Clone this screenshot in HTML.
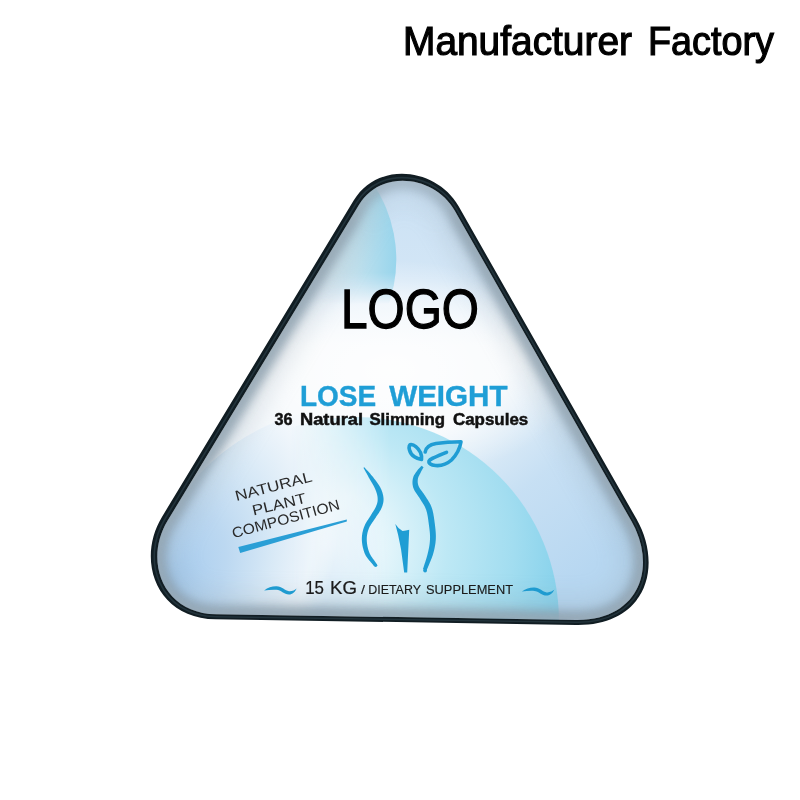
<!DOCTYPE html>
<html><head><meta charset="utf-8"><style>
html,body{margin:0;padding:0;background:#fff;width:800px;height:800px;overflow:hidden}
svg{display:block;will-change:transform}
text{font-family:"Liberation Sans",sans-serif}
</style></head><body>
<svg width="800" height="800" viewBox="0 0 800 800">
<defs>
  <clipPath id="tri"><path d="M358.85 205.12 C381.15 168.32 434.92 175.82 454.65 210.50 L631.64 521.56 C657.36 566.76 639.60 620.86 575.96 619.88 L216.37 614.30 C161.99 613.46 143.78 560.01 167.54 520.80 Z"/></clipPath>
  <linearGradient id="topblue" x1="0" y1="185" x2="0" y2="345" gradientUnits="userSpaceOnUse">
    <stop offset="0" stop-color="#cbe1f4"/>
    <stop offset="0.6" stop-color="#d3e6f6"/>
    <stop offset="1" stop-color="#d3e6f6" stop-opacity="0"/>
  </linearGradient>
  <linearGradient id="brblue" x1="470" y1="400" x2="600" y2="560" gradientUnits="userSpaceOnUse">
    <stop offset="0" stop-color="#b9d9f2" stop-opacity="0"/>
    <stop offset="0.5" stop-color="#c2ddf3" stop-opacity="0.9"/>
    <stop offset="1" stop-color="#b7d7f1"/>
  </linearGradient>
  <radialGradient id="glow" cx="0" cy="0" r="1" gradientUnits="userSpaceOnUse" gradientTransform="translate(390 370) scale(190 110)">
    <stop offset="0" stop-color="#ffffff" stop-opacity="0.9"/>
    <stop offset="0.6" stop-color="#ffffff" stop-opacity="0.6"/>
    <stop offset="1" stop-color="#ffffff" stop-opacity="0"/>
  </radialGradient>
  <linearGradient id="topband" x1="310" y1="0" x2="396" y2="0" gradientUnits="userSpaceOnUse">
    <stop offset="0" stop-color="#e2ebf0"/>
    <stop offset="0.55" stop-color="#c0e1ee"/>
    <stop offset="1" stop-color="#98d5ec"/>
  </linearGradient>
  <linearGradient id="topbandfade" x1="0" y1="180" x2="0" y2="304" gradientUnits="userSpaceOnUse">
    <stop offset="0" stop-color="#fff"/>
    <stop offset="0.75" stop-color="#fff"/>
    <stop offset="1" stop-color="#000"/>
  </linearGradient>
  <mask id="tbm"><rect x="0" y="0" width="800" height="800" fill="url(#topbandfade)"/></mask>
  <radialGradient id="lblue" cx="0" cy="0" r="1" gradientUnits="userSpaceOnUse" gradientTransform="matrix(119.1 -196.7 128.3 77.7 165 585)">
    <stop offset="0" stop-color="#a3caee"/>
    <stop offset="0.35" stop-color="#bcd8f1"/>
    <stop offset="0.6" stop-color="#d6e8f6"/>
    <stop offset="0.85" stop-color="#eef5fb" stop-opacity="0.9"/>
    <stop offset="1" stop-color="#f6fafd" stop-opacity="0"/>
  </radialGradient>
  <radialGradient id="cyan" cx="0" cy="0" r="1" gradientUnits="userSpaceOnUse" gradientTransform="translate(330 545) scale(235 235)">
    <stop offset="0" stop-color="#f5fbfe"/>
    <stop offset="0.22" stop-color="#e6f6fb"/>
    <stop offset="0.5" stop-color="#bde8f5"/>
    <stop offset="0.78" stop-color="#a2ddf0"/>
    <stop offset="1" stop-color="#86d1eb"/>
  </radialGradient>
  <linearGradient id="cyanfade" x1="290" y1="0" x2="390" y2="0" gradientUnits="userSpaceOnUse">
    <stop offset="0" stop-color="#000"/>
    <stop offset="1" stop-color="#fff"/>
  </linearGradient>
  <mask id="cfm"><rect x="0" y="0" width="800" height="800" fill="url(#cyanfade)"/></mask>
  <filter id="blur6" x="-20%" y="-20%" width="140%" height="140%"><feGaussianBlur stdDeviation="5"/></filter>
  <radialGradient id="apexg" cx="0" cy="0" r="1" gradientUnits="userSpaceOnUse" gradientTransform="translate(404 200) scale(60 45)">
    <stop offset="0" stop-color="#888"/>
    <stop offset="1" stop-color="#fff"/>
  </radialGradient>
  <mask id="apexm"><rect x="0" y="0" width="800" height="800" fill="url(#apexg)"/></mask>
  <filter id="blur12" x="-20%" y="-20%" width="140%" height="140%"><feGaussianBlur stdDeviation="12"/></filter>
  <filter id="blur3" x="-20%" y="-20%" width="140%" height="140%"><feGaussianBlur stdDeviation="3"/></filter>
</defs>
<g clip-path="url(#tri)">
  <rect x="100" y="100" width="600" height="560" fill="#f1f6fa"/>
  <rect x="100" y="100" width="600" height="300" fill="url(#topblue)"/>
  <rect x="100" y="100" width="600" height="560" fill="url(#brblue)"/>
  <ellipse cx="390" cy="370" rx="190" ry="110" fill="url(#glow)"/>
  <g mask="url(#tbm)"><circle cx="261.3" cy="259.5" r="135" fill="url(#topband)"/></g>
  <circle cx="355.9" cy="620.1" r="214" fill="url(#lblue)"/>
  <g mask="url(#cfm)"><circle cx="355.9" cy="620.1" r="203" fill="url(#cyan)"/></g>
  <g mask="url(#apexm)">
  <path d="M358.85 205.12 C381.15 168.32 434.92 175.82 454.65 210.50 L631.64 521.56 C657.36 566.76 639.60 620.86 575.96 619.88 L216.37 614.30 C161.99 613.46 143.78 560.01 167.54 520.80 Z" fill="none" stroke="#8d9fac" stroke-width="40" filter="url(#blur12)" opacity="0.25"/>
  <path d="M358.85 205.12 C381.15 168.32 434.92 175.82 454.65 210.50 L631.64 521.56 C657.36 566.76 639.60 620.86 575.96 619.88 L216.37 614.30 C161.99 613.46 143.78 560.01 167.54 520.80 Z" fill="none" stroke="#8a9dab" stroke-width="18" filter="url(#blur6)" opacity="0.8"/>
  <path d="M358.85 205.12 C381.15 168.32 434.92 175.82 454.65 210.50 L631.64 521.56 C657.36 566.76 639.60 620.86 575.96 619.88 L216.37 614.30 C161.99 613.46 143.78 560.01 167.54 520.80 Z" fill="none" stroke="#a2b2bd" stroke-width="6" filter="url(#blur3)" opacity="0.5"/>
  </g>
</g>
<path d="M353.64 200.59 C378.10 160.23 436.93 168.23 458.47 206.10 L636.40 518.81 C664.15 567.58 644.90 625.95 576.13 624.88 L215.70 619.29 C156.00 618.37 135.94 559.84 161.96 516.91 Z M358.85 205.12 C381.15 168.32 434.92 175.82 454.65 210.50 L631.64 521.56 C657.36 566.76 639.60 620.86 575.96 619.88 L216.37 614.30 C161.99 613.46 143.78 560.01 167.54 520.80 Z" fill="#111d23" fill-rule="evenodd"/>
<path d="M356.29 203.16 C379.63 164.65 435.84 172.39 456.44 208.60 L633.82 520.34 C660.49 567.21 642.04 623.30 576.00 622.28 L216.07 616.70 C159.16 615.82 140.07 559.96 164.91 518.98 Z" fill="none" stroke="#22333b" stroke-width="1.6"/>

<!-- texts -->
<g fill="#000" stroke="#000" stroke-width="1.2" font-size="41"><text x="403" y="55.2" textLength="229" lengthAdjust="spacingAndGlyphs">Manufacturer</text>
<text x="648" y="55.2" textLength="126" lengthAdjust="spacingAndGlyphs">Factory</text></g>
<text x="341" y="328" font-size="55.5" textLength="138" lengthAdjust="spacingAndGlyphs" fill="#000" stroke="#000" stroke-width="1.3">LOGO</text>
<g font-size="30.2" font-weight="bold" fill="#1f9ed6" stroke="#1f9ed6" stroke-width="0.4"><text x="300.0" y="406.4" textLength="76.2" lengthAdjust="spacingAndGlyphs">LOSE</text><text x="389.2" y="406.4" textLength="118.4" lengthAdjust="spacingAndGlyphs">WEIGHT</text></g>
<g font-size="17.2" font-weight="bold" fill="#111" stroke="#111" stroke-width="0.5"><text x="274.5" y="424.9" textLength="18.1" lengthAdjust="spacingAndGlyphs">36</text><text x="300.0" y="424.9" textLength="63.0" lengthAdjust="spacingAndGlyphs">Natural</text><text x="369.4" y="424.9" textLength="75.6" lengthAdjust="spacingAndGlyphs">Slimming</text><text x="453.0" y="424.9" textLength="75.2" lengthAdjust="spacingAndGlyphs">Capsules</text></g>
<g font-size="17.64" fill="#1a1a1a" stroke="#1a1a1a" stroke-width="0.2"><text x="305.2" y="594.2" textLength="18.8" lengthAdjust="spacingAndGlyphs">15</text><text x="330.0" y="594.2" textLength="27.0" lengthAdjust="spacingAndGlyphs">KG</text></g>
<g font-size="12.92" fill="#1a1a1a" stroke="#1a1a1a" stroke-width="0.15"><text x="361.0" y="594.2" textLength="4.0" lengthAdjust="spacingAndGlyphs">/</text><text x="368.2" y="594.2" textLength="52.8" lengthAdjust="spacingAndGlyphs">DIETARY</text><text x="426.0" y="594.2" textLength="87.0" lengthAdjust="spacingAndGlyphs">SUPPLEMENT</text></g>
<g fill="#2a2a2a" font-size="14.6">
  <text transform="translate(236.5 501) rotate(-14.5)" textLength="79" lengthAdjust="spacingAndGlyphs">NATURAL</text>
  <text transform="translate(253.5 515.5) rotate(-13.5)" textLength="55" lengthAdjust="spacingAndGlyphs">PLANT</text>
  <text transform="translate(233.5 538.3) rotate(-15.3)" textLength="111" lengthAdjust="spacingAndGlyphs">COMPOSITION</text>
</g>
<path d="M238.3 547 L346.8 519.6 L346.8 521.6 L240.2 552.9 Z" fill="#2a9fd6"/>

<!-- waves -->
<g id="wave" fill="#1f9bd0">
<path d="M264.1 590.4 C268 587.5 272 586.2 276.5 586.3 C282 586.5 285 590.6 289 591.3 C292 591.6 295 590 296.6 588.5 C295 592 292.5 594.5 289 594.5 C284 594.5 281 590 276.5 589.8 C272 589.6 268 590 264.1 590.4 Z"/>
</g>
<use href="#wave" transform="translate(257.75 1.1)"/>

<!-- body icon -->
<g fill="#1f9dd4">
  <path d="M363.49 467.79 L363.97 468.67 L364.45 469.54 L364.93 470.41 L365.40 471.27 L365.88 472.13 L366.36 472.99 L366.83 473.86 L367.31 474.73 L367.78 475.62 L368.26 476.51 L368.74 477.42 L369.22 478.36 L369.77 479.30 L370.35 480.28 L370.95 481.27 L371.55 482.28 L372.16 483.29 L372.75 484.30 L373.32 485.30 L373.86 486.29 L374.36 487.25 L374.81 488.19 L375.21 489.08 L375.55 489.93 L375.89 490.75 L376.20 491.57 L376.48 492.38 L376.73 493.16 L376.95 493.93 L377.13 494.69 L377.29 495.43 L377.42 496.16 L377.52 496.87 L377.59 497.56 L377.63 498.24 L377.65 498.91 L377.67 499.54 L377.66 500.14 L377.62 500.73 L377.56 501.31 L377.47 501.89 L377.35 502.47 L377.20 503.05 L377.03 503.66 L376.83 504.28 L376.61 504.92 L376.35 505.59 L376.08 506.27 L375.81 506.93 L375.49 507.59 L375.13 508.27 L374.73 508.98 L374.30 509.71 L373.83 510.46 L373.34 511.24 L372.84 512.03 L372.32 512.85 L371.79 513.69 L371.26 514.55 L370.75 515.40 L370.25 516.23 L369.73 517.05 L369.17 517.90 L368.58 518.78 L367.99 519.68 L367.38 520.61 L366.78 521.56 L366.19 522.53 L365.62 523.53 L365.09 524.57 L364.60 525.63 L364.17 526.70 L363.79 527.74 L363.45 528.78 L363.14 529.83 L362.85 530.90 L362.60 531.98 L362.38 533.07 L362.20 534.17 L362.05 535.29 L361.94 536.41 L361.87 537.55 L361.84 538.70 L361.85 539.86 L361.91 541.03 L362.01 542.23 L362.15 543.44 L362.33 544.67 L362.54 545.90 L362.79 547.14 L363.08 548.37 L363.41 549.60 L363.77 550.81 L364.17 552.01 L364.61 553.18 L365.10 554.33 L365.68 555.44 L366.32 556.52 L367.02 557.55 L367.74 558.54 L368.49 559.49 L369.25 560.42 L370.03 561.32 L370.80 562.20 L371.56 563.08 L372.30 563.94 L373.02 564.81 L373.72 565.69 L376.48 563.71 L375.83 562.72 L375.15 561.74 L374.46 560.78 L373.77 559.83 L373.08 558.90 L372.42 557.97 L371.78 557.05 L371.19 556.14 L370.63 555.22 L370.13 554.31 L369.69 553.40 L369.30 552.47 L368.92 551.51 L368.57 550.49 L368.24 549.44 L367.94 548.37 L367.68 547.28 L367.44 546.17 L367.24 545.07 L367.08 543.96 L366.94 542.87 L366.85 541.80 L366.78 540.75 L366.75 539.74 L366.75 538.75 L366.78 537.79 L366.84 536.82 L366.95 535.87 L367.08 534.92 L367.24 533.98 L367.44 533.05 L367.67 532.12 L367.92 531.20 L368.20 530.29 L368.51 529.38 L368.83 528.50 L369.19 527.67 L369.60 526.84 L370.06 526.00 L370.56 525.16 L371.11 524.30 L371.68 523.44 L372.28 522.58 L372.88 521.71 L373.49 520.83 L374.10 519.95 L374.70 519.07 L375.25 518.20 L375.77 517.38 L376.29 516.60 L376.83 515.82 L377.36 515.03 L377.90 514.25 L378.44 513.46 L378.97 512.67 L379.49 511.86 L379.99 511.05 L380.47 510.22 L380.92 509.38 L381.32 508.53 L381.66 507.73 L381.97 506.95 L382.26 506.17 L382.53 505.40 L382.77 504.61 L382.99 503.81 L383.17 503.00 L383.33 502.17 L383.44 501.33 L383.52 500.47 L383.55 499.59 L383.55 498.69 L383.48 497.80 L383.37 496.90 L383.23 496.00 L383.05 495.10 L382.85 494.19 L382.60 493.27 L382.33 492.35 L382.02 491.43 L381.68 490.50 L381.30 489.57 L380.90 488.63 L380.45 487.67 L379.91 486.70 L379.31 485.71 L378.67 484.73 L378.00 483.74 L377.31 482.76 L376.59 481.78 L375.87 480.81 L375.14 479.85 L374.42 478.91 L373.72 477.99 L373.04 477.11 L372.38 476.24 L371.69 475.43 L371.01 474.63 L370.33 473.85 L369.65 473.08 L368.98 472.33 L368.31 471.60 L367.64 470.87 L366.97 470.14 L366.31 469.41 L365.64 468.69 L364.98 467.95 L364.31 467.21 Z"/>
  <path d="M421.63 465.79 L421.28 466.15 L420.94 466.50 L420.59 466.84 L420.24 467.19 L419.89 467.54 L419.53 467.89 L419.16 468.27 L418.79 468.66 L418.42 469.07 L418.04 469.51 L417.66 469.98 L417.29 470.46 L416.95 470.95 L416.59 471.45 L416.20 471.98 L415.80 472.55 L415.39 473.14 L414.97 473.77 L414.57 474.43 L414.17 475.12 L413.80 475.84 L413.47 476.60 L413.18 477.41 L412.95 478.22 L412.79 478.99 L412.67 479.75 L412.57 480.53 L412.50 481.33 L412.47 482.14 L412.47 482.98 L412.52 483.83 L412.61 484.70 L412.75 485.58 L412.94 486.48 L413.19 487.39 L413.49 488.33 L413.90 489.29 L414.37 490.24 L414.90 491.17 L415.46 492.07 L416.05 492.96 L416.65 493.84 L417.26 494.71 L417.87 495.57 L418.47 496.42 L419.04 497.26 L419.57 498.09 L420.09 498.95 L420.64 499.86 L421.22 500.78 L421.80 501.69 L422.38 502.58 L422.94 503.46 L423.49 504.35 L424.01 505.23 L424.51 506.12 L424.97 507.02 L425.41 507.94 L425.80 508.89 L426.16 509.87 L426.49 510.92 L426.80 512.05 L427.09 513.24 L427.36 514.49 L427.60 515.78 L427.83 517.10 L428.04 518.45 L428.23 519.80 L428.42 521.14 L428.59 522.48 L428.76 523.80 L428.92 525.08 L429.09 526.33 L429.26 527.55 L429.41 528.75 L429.55 529.93 L429.68 531.09 L429.79 532.24 L429.89 533.37 L429.96 534.50 L430.01 535.62 L430.04 536.73 L430.03 537.84 L430.00 538.96 L429.95 540.09 L429.88 541.20 L429.79 542.31 L429.67 543.42 L429.53 544.53 L429.37 545.64 L429.18 546.76 L428.97 547.90 L428.74 549.06 L428.48 550.25 L428.20 551.46 L427.89 552.70 L427.61 553.96 L427.28 555.26 L426.92 556.60 L426.52 557.96 L426.10 559.35 L425.65 560.76 L425.20 562.19 L424.73 563.62 L424.26 565.06 L423.80 566.50 L423.34 567.94 L422.91 569.36 L426.49 570.64 L427.04 569.28 L427.61 567.91 L428.20 566.53 L428.79 565.14 L429.38 563.75 L429.97 562.35 L430.55 560.96 L431.12 559.56 L431.66 558.18 L432.18 556.81 L432.66 555.44 L433.11 554.10 L433.46 552.79 L433.79 551.52 L434.10 550.27 L434.39 549.03 L434.65 547.80 L434.88 546.59 L435.10 545.37 L435.29 544.16 L435.45 542.94 L435.59 541.72 L435.71 540.49 L435.80 539.24 L435.85 537.97 L435.87 536.71 L435.86 535.46 L435.82 534.22 L435.76 532.98 L435.67 531.75 L435.57 530.52 L435.45 529.29 L435.32 528.05 L435.18 526.82 L435.03 525.57 L434.88 524.32 L434.71 523.04 L434.54 521.71 L434.36 520.35 L434.17 518.96 L433.97 517.55 L433.75 516.13 L433.50 514.72 L433.24 513.31 L432.94 511.92 L432.61 510.55 L432.25 509.22 L431.84 507.93 L431.38 506.68 L430.87 505.49 L430.32 504.36 L429.75 503.27 L429.16 502.24 L428.56 501.24 L427.96 500.29 L427.36 499.36 L426.77 498.46 L426.20 497.59 L425.66 496.73 L425.11 495.85 L424.51 494.92 L423.88 493.98 L423.23 493.06 L422.58 492.18 L421.95 491.33 L421.33 490.50 L420.76 489.70 L420.22 488.94 L419.74 488.21 L419.32 487.52 L418.98 486.88 L418.71 486.27 L418.46 485.66 L418.25 485.05 L418.08 484.44 L417.94 483.84 L417.84 483.25 L417.76 482.66 L417.72 482.07 L417.70 481.49 L417.70 480.90 L417.73 480.32 L417.79 479.74 L417.85 479.18 L417.92 478.68 L418.03 478.18 L418.19 477.66 L418.39 477.11 L418.62 476.55 L418.89 475.98 L419.18 475.40 L419.48 474.82 L419.80 474.24 L420.11 473.66 L420.43 473.09 L420.71 472.54 L420.94 472.03 L421.16 471.57 L421.38 471.12 L421.61 470.68 L421.84 470.25 L422.07 469.83 L422.31 469.41 L422.56 468.98 L422.81 468.55 L423.06 468.12 L423.32 467.66 L423.57 467.21 Z"/>
  <circle cx="375.6" cy="565.3" r="1.7"/><circle cx="425.1" cy="570.6" r="1.9"/>
  <path d="M395.3 524 L398.5 528 L402.5 531 L406 530.6 L409.2 529.8 L407.2 572.5 L404.2 572.5 L401 549 L398.1 534.8 Z"/>
</g>
<g fill="none" stroke="#1f9dd4" stroke-linecap="round" stroke-linejoin="round" stroke-width="3.6">
  <path d="M421.5 459.5 C417 459 411 456 409.5 450 C408.5 446 409.5 444.5 411 444.5 C414 444.7 418 448 420.5 452.5 C421.5 455 421.8 457.5 421.5 459.5 Z"/>
  <path d="M425.2 452 C426 447 430 444.5 436 443.5 C444 442.5 452 442 461 441.8 C460 448 456.5 455 451.5 460 C447 464 441 466 435.5 465.5 C431 465 428.5 463.5 429 461 C430 459 434 457.5 446.5 452.3"/>
</g>
</svg>
</body></html>
